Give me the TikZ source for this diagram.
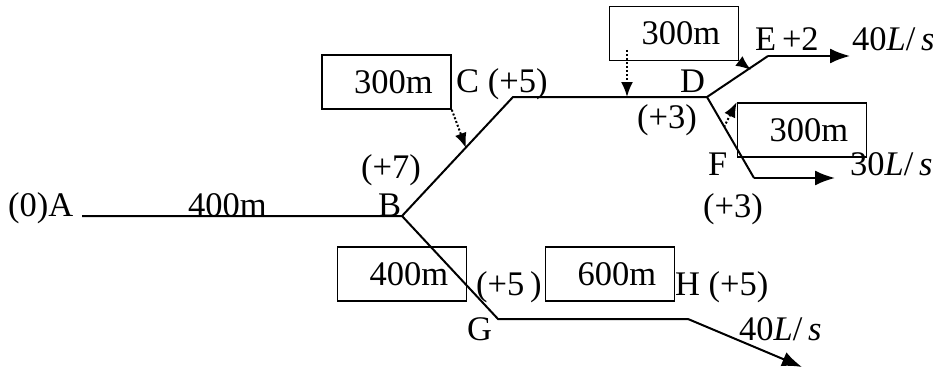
\documentclass[tikz,border=0pt]{standalone}
\usepackage{fontspec}
\setmainfont{Liberation Serif}
\usetikzlibrary{arrows.meta}
\begin{document}
\begin{tikzpicture}[x=1pt,y=-1pt,
  pipe/.style={line width=2pt},
  flow/.style={line width=2pt,-{Latex[length=20pt,width=15pt]}},
  pointer/.style={line width=2pt,dotted,-{Latex[length=15pt,width=12pt]}},
  lenbox/.style={draw,line width=1.6pt,minimum width=129pt,minimum height=54pt,inner sep=0pt,
    font=\fontsize{34.5}{38}\selectfont},
  lbl/.style={inner sep=0pt,anchor=base west,font=\fontsize{34.5}{38}\selectfont}]
\useasboundingbox (0,0) rectangle (933,369);
% junctions
\coordinate (A) at (82,216);
\coordinate (B) at (402,216);
\coordinate (C) at (513,97);
\coordinate (D) at (707,97);
\coordinate (E) at (768,56);
\coordinate (Eend) at (850,56);
\coordinate (F) at (754,178);
\coordinate (Fend) at (835,178);
\coordinate (G) at (498,319);
\coordinate (H) at (688,319);
\coordinate (Hend) at (802,367);
% pipes
\draw[pipe] (A) -- (B) -- (C) -- (D) -- (E);
\draw[pipe] (D) -- (F);
\draw[pipe] (B) -- (G) -- (H);
\draw[flow] (E) -- (Eend);
\draw[flow] (F) -- (Fend);
\draw[flow] (H) -- (Hend);
% length boxes
\node[lenbox] (b1) at (386.5,82) {\hspace*{14pt}300m};
\node[lenbox] (b2) at (674,33.5) {\hspace*{14pt}300m};
\node[lenbox] (b3) at (802,130) {\hspace*{14pt}300m};
\node[lenbox] (b4) at (402,274) {\hspace*{14pt}400m};
\node[lenbox] (b5) at (610,274) {\hspace*{14pt}600m};
% pointers
\coordinate (p1) at (466,148);
\coordinate (p2s) at (627,50);
\coordinate (p2) at (627,97);
\coordinate (p3) at (751,70);
\coordinate (p4) at (724,127);
\draw[pointer] (b1.south east) -- (p1);
\draw[pointer] (p2s) -- (p2);
\draw[pointer] (b2.south east) -- (p3);
\draw[pointer] (p4) -- (b3.north west);
% labels
\node[lbl] (lA) at (8,216) {(0)A};
\node[lbl] (lAB) at (188,216) {400m};
\node[lbl] (lB) at (378,216) {B};
\node[lbl] (lB7) at (361,178) {(+7)};
\node[lbl] (lC) at (456,92) {C (+5)};
\node[lbl] (lD) at (680,92) {D};
\node[lbl] (lD3) at (637,128) {(+3)};
\node[lbl] (lE) at (755,50) {E\,+2};
\node[lbl] (qE) at (852,50) {40\textit{L}/\,\textit{s}};
\node[lbl] (lF) at (708,175) {F};
\node[lbl] (qF) at (850,175) {30\textit{L}/\,\textit{s}};
\node[lbl] (lF3) at (703,217) {(+3)};
\node[lbl] (lG5) at (476,295) {(+5\,)};
\node[lbl] (lH) at (675,295) {H (+5)};
\node[lbl] (lG) at (467,340) {G};
\node[lbl] (qH) at (739,340) {40\textit{L}/\,\textit{s}};
\end{tikzpicture}
\end{document}
